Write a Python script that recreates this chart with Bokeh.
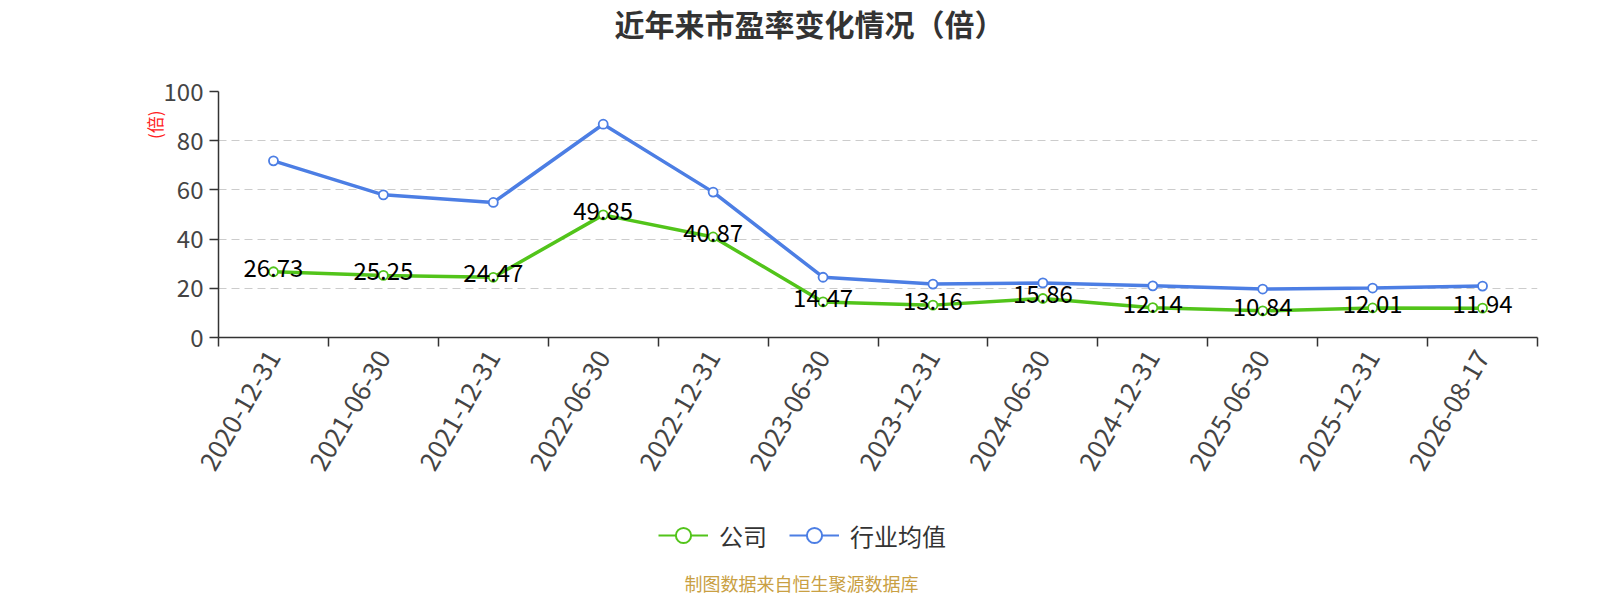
import math
from bokeh.plotting import figure
from bokeh.layouts import column
from bokeh.models import (ColumnDataSource, Range1d, FixedTicker, CustomJSTickFormatter,
                          Legend, LegendItem, Title, Label)
from bokeh.core.properties import value
from bokeh.embed import file_html
from bokeh.resources import INLINE

# ---------------- data ----------------
dates = ["2020-12-31", "2021-06-30", "2021-12-31", "2022-06-30", "2022-12-31", "2023-06-30",
         "2023-12-31", "2024-06-30", "2024-12-31", "2025-06-30", "2025-12-31", "2026-08-17"]
company = [26.73, 25.25, 24.47, 49.85, 40.87, 14.47, 13.16, 15.86, 12.14, 10.84, 12.01, 11.94]
industry = [71.8, 58.0, 54.9, 86.7, 59.1, 24.5, 21.7, 22.2, 21.0, 19.7, 20.1, 20.9]
y_ticks = [0, 20, 40, 60, 80, 100]
series_names = ["公司", "行业均值"]
title_text = "近年来市盈率变化情况（倍）"
unit_text = "(倍)"
source_text = "制图数据来自恒生聚源数据库"

FONT = "Noto Sans CJK SC"
GREEN = "#52c41a"
BLUE = "#4c7ee4"
AXIS = "#333333"
W = 1584
H_MAIN = 500
H_FOOT = 96
LEFT, RIGHT = 218, 47

n = len(dates)
xs = [i + 0.5 for i in range(n)]
src = ColumnDataSource(dict(x=xs, company=company, industry=industry,
                            lab=[f"{v:.2f}" for v in company]))

p = figure(width=W, height=H_MAIN, x_range=Range1d(0, n), y_range=Range1d(y_ticks[0], y_ticks[-1]),
           output_backend="svg", toolbar_location=None,
           min_border_left=LEFT, min_border_right=RIGHT, min_border_top=0, min_border_bottom=163)
p.outline_line_color = None
p.background_fill_color = "white"
p.border_fill_color = "white"
p.xgrid.visible = False

# y axis
ya = p.yaxis[0]
ya.ticker = FixedTicker(ticks=y_ticks)
ya.axis_line_color = AXIS
ya.axis_line_width = 1.5
ya.major_tick_line_color = AXIS
ya.major_tick_line_width = 1.5
ya.major_tick_out = 9
ya.major_tick_in = 0
ya.minor_tick_line_color = None
ya.major_label_text_font = FONT
ya.major_label_text_font_size = "24px"
ya.major_label_text_color = "#444444"
ya.major_label_standoff = 6
p.ygrid.ticker = FixedTicker(ticks=y_ticks)
p.ygrid.grid_line_color = "#cccccc"
p.ygrid.grid_line_dash = "8 5"
p.ygrid.grid_line_width = 1

# x axis
xa = p.xaxis[0]
xa.ticker = FixedTicker(ticks=xs, minor_ticks=list(range(n + 1)))
xa.formatter = CustomJSTickFormatter(args=dict(labels=dates),
                                     code="return labels[Math.round(tick - 0.5)];")
xa.axis_line_color = AXIS
xa.axis_line_width = 1.5
xa.major_tick_out = 0
xa.major_tick_in = 0
xa.major_tick_line_color = None
xa.minor_tick_out = 9
xa.minor_tick_in = 0
xa.minor_tick_line_color = AXIS
xa.minor_tick_line_width = 1.5
xa.major_label_orientation = math.pi / 3
xa.major_label_text_font = FONT
xa.major_label_text_font_size = "26px"
xa.major_label_text_color = "#444444"
xa.major_label_standoff = 6

# series
p.line("x", "industry", source=src, line_color=BLUE, line_width=3.5)
p.scatter("x", "industry", source=src, size=9, fill_color="white", line_color=BLUE, line_width=1.8)
p.line("x", "company", source=src, line_color=GREEN, line_width=3.5)
p.scatter("x", "company", source=src, size=9, fill_color="white", line_color=GREEN, line_width=1.8)
p.text("x", "company", text="lab", source=src, text_font=value(FONT), text_font_size="24px",
       text_color="#000000", text_align="center", text_baseline="middle", y_offset=-4)

# ---- title (outermost above) with a spacer between it and the frame ----
p.title.text = title_text
p.title.align = "left"
p.title.offset = 396
p.title.standoff = 0
p.title.vertical_align = "top"
p.title.text_font = FONT
p.title.text_font_size = "30px"
p.title.text_font_style = "bold"
p.title.text_color = "#333333"
p.add_layout(Title(text=" ", text_font_size="10px", standoff=32), "above")

# ---- unit label on the left, near the top of the axis ----
p.add_layout(Title(text=unit_text, align="right", offset=19, standoff=-12, text_font=FONT,
                   text_font_size="17px", text_font_style="normal", text_color="#ff2020"), "left")

# ---------------- legend + source line (second strip, frame aligned with the chart) ----------------
f = figure(width=W, height=H_FOOT, x_range=Range1d(LEFT, W - RIGHT), y_range=Range1d(0, H_FOOT),
           output_backend="svg", toolbar_location=None,
           min_border_left=LEFT, min_border_right=RIGHT, min_border_top=0, min_border_bottom=0)
f.axis.visible = False
f.grid.visible = False
f.outline_line_color = None
f.background_fill_color = "white"
f.border_fill_color = "white"

# legend-only renderers: the series data lies outside this strip's x range, so only the legend icons show
items = []
for name, col, field in zip(series_names, [GREEN, BLUE], ["company", "industry"]):
    l = f.line("x", field, source=src, line_color=col, line_width=2)
    s = f.scatter("x", field, source=src, size=15, fill_color="white", line_color=col, line_width=2)
    items.append(LegendItem(label=name, renderers=[l, s]))
legend = Legend(items=items, orientation="horizontal", location=(440, 42),
                border_line_color=None, background_fill_alpha=0, padding=0, margin=0,
                spacing=22, glyph_width=50, glyph_height=38, label_height=38, label_standoff=11,
                label_text_font=FONT, label_text_font_size="24px", label_text_color="#333333")
f.add_layout(legend)

f.add_layout(Label(x=801, y=14, text=source_text, text_align="center", text_baseline="middle",
                   text_font=FONT, text_font_size="18px", text_color="#c9a043"))

layout = column(p, f, spacing=0)
open("out.html", "w").write(file_html(layout, INLINE))
